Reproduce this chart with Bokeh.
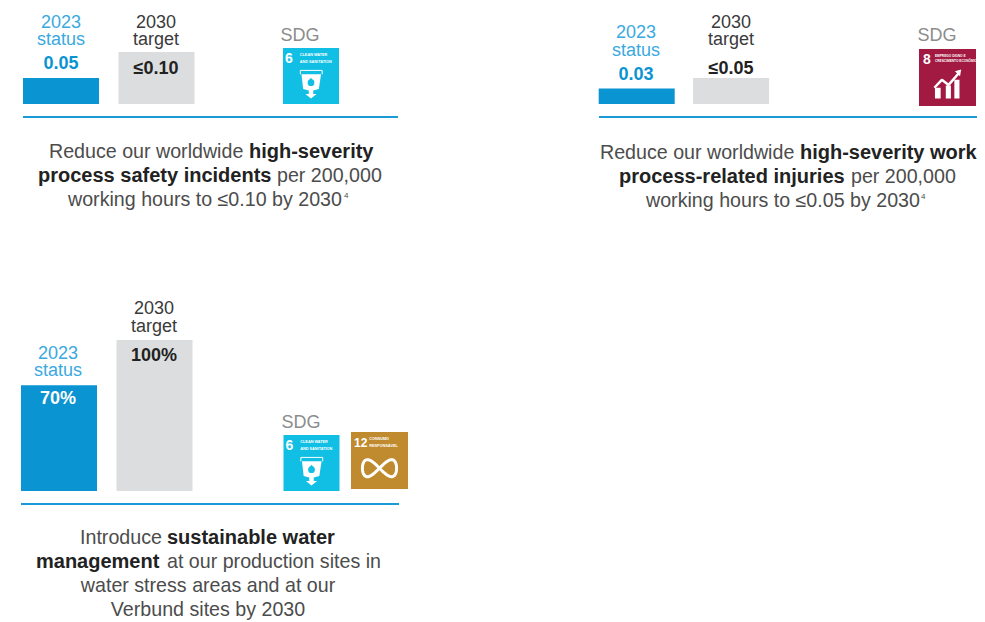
import numpy as np
from bokeh.plotting import figure
from bokeh.models import Range1d
from bokeh.core.properties import value
from bokeh.embed import file_html
from bokeh.resources import INLINE

# ---- data ----
status_labels = ["0.05", "0.03", "70%"]
target_labels = ["≤0.10", "≤0.05", "100%"]
status_values = [0.05, 0.03, 70]
target_values = [0.10, 0.05, 100]
series_names = ["2023\nstatus", "2030\ntarget"]

# ---- style ----
BLUE, GREY, RULE = "#0a94d2", "#dcddde", "#1a9ad6"
LBLUE, DARK, BODY, SDGC = "#3aa9df", "#3a3a3a", "#4c4c4c", "#8c8c8c"
C6, C8, C12 = "#10bfe3", "#a21942", "#bf8b2e"
FONT = "Liberation Sans"
W, H = 985, 622
BS = 19.65
BB = 20
OFF = 0.5

p = figure(width=W, height=H, output_backend="svg", toolbar_location=None,
           x_range=Range1d(OFF, W + OFF), y_range=Range1d(H + OFF, OFF),
           min_border=0, outline_line_color=None, background_fill_color="white")
p.axis.visible = False
p.grid.visible = False

# value scales: base pixel 104 for the rate panels, 491 for the percentage panel
p.extra_y_ranges = {
    "rate": Range1d((104 - H - OFF) / 520, (104 - OFF) / 520),
    "pct": Range1d((491 - H - OFF) / 1.51, (491 - OFF) / 1.51),
}


def t(x, y, s, size=18, color=BODY, bold=False, align="center"):
    p.text([x], [y], text=[s], text_font=value(FONT), text_font_size=f"{size}px",
           text_color=color, text_font_style="bold" if bold else "normal",
           text_align=align, text_baseline="middle")


def bars(i, xs, rng):
    for x, v, c in zip(xs, [status_values[i], target_values[i]], [BLUE, GREY]):
        p.vbar(x=[x], width=76, bottom=[0], top=[v], color=c, line_color=None, y_range_name=rng)


def series_text(x, y1, y2, name, color):
    a, b = name.split("\n")
    t(x, y1, a, color=color)
    t(x, y2, b, color=color)


def square(x, y, s, color):
    p.quad(left=[x], right=[x + s], top=[y], bottom=[y + s], color=color, line_color=None)


def icon6(x, y, s=56):
    square(x, y, s, C6)
    t(x + .105 * s, y + .18 * s, "6", 14, "white", True)
    t(x + .30 * s, y + .13 * s, "CLEAN WATER", 3.8, "white", True, "left")
    t(x + .30 * s, y + .25 * s, "AND SANITATION", 3.8, "white", True, "left")
    X = lambda a: [x + q * s for q in a]
    Y = lambda a: [y + q * s for q in a]
    p.line(X([.31, .31, .70, .70]), Y([.47, .40, .40, .47]), line_color="white", line_width=1)
    p.patch(X([.33, .68, .64, .54, .54, .60, .50, .40, .46, .46, .36]),
            Y([.47, .47, .73, .76, .82, .82, .90, .82, .82, .76, .73]), color="white", line_color=None)
    p.scatter(X([.5]), Y([.62]), size=.12 * s, color=C6, line_color=None)
    p.patch(X([.5, .45, .55]), Y([.53, .60, .60]), color=C6, line_color=None)


def icon8(x, y, s=57):
    square(x, y, s, C8)
    t(x + .14 * s, y + .17 * s, "8", 14, "white", True)
    t(x + .28 * s, y + .115 * s, "EMPREGO DIGNO E", 3.2, "white", True, "left")
    t(x + .28 * s, y + .21 * s, "CRESCIMENTO ECONÔMICO", 3.2, "white", True, "left")
    X = lambda a: [x + q * s for q in a]
    Y = lambda a: [y + q * s for q in a]
    p.quad(left=X([.28, .47, .62]), right=X([.38, .56, .71]), top=Y([.68, .64, .54]),
           bottom=Y([.87, .87, .87]), color="white", line_color=None)
    p.line(X([.27, .40, .52, .70]), Y([.68, .54, .63, .42]), line_color="white", line_width=2.5)
    p.patch(X([.63, .74, .72]), Y([.39, .36, .48]), color="white", line_color=None)


def icon12(x, y, s=57):
    square(x, y, s, C12)
    t(x + .17 * s, y + .19 * s, "12", 12, "white", True)
    t(x + .32 * s, y + .12 * s, "CONSUMO", 3.8, "white", True, "left")
    t(x + .32 * s, y + .24 * s, "RESPONSÁVEL", 3.8, "white", True, "left")
    th = np.linspace(0, 2 * np.pi, 80)
    p.line(x + .50 * s + .30 * s * np.cos(th), y + .635 * s + .30 * s * np.sin(th) * np.cos(th),
           line_color="white", line_width=3)


# ---- panel 1 ----
bars(0, [61, 156.5], "rate")
series_text(61, 21, 39, series_names[0], LBLUE)
series_text(156, 21, 39, series_names[1], DARK)
t(61, 62, status_labels[0], 18, BLUE, True)
t(156, 68, target_labels[0], 18, "#222222", True)
t(300, 35, "SDG", color=SDGC)
icon6(283, 48)
p.line([23, 398], [117, 117], line_color=RULE, line_width=2)
t(49, 151, "Reduce our worldwide", BS, align="left")
t(249, 151, "high-severity", BB, "#222222", True, "left")
t(38, 175, "process safety incidents", BB, "#222222", True, "left")
t(277, 175, "per 200,000", BS, align="left")
t(68, 199, "working hours to ≤0.10 by 2030", BS, align="left")
t(344, 195, "4", 8, align="left")

# ---- panel 2 ----
bars(1, [636.7, 731], "rate")
series_text(636, 31, 50, series_names[0], LBLUE)
series_text(731, 21, 39, series_names[1], DARK)
t(636, 73, status_labels[1], 18, BLUE, True)
t(731, 68, target_labels[1], 18, "#222222", True)
t(937, 35, "SDG", color=SDGC)
icon8(919, 49)
p.line([599, 977], [117, 117], line_color=RULE, line_width=2)
t(600, 152, "Reduce our worldwide", BS, align="left")
t(800, 152, "high-severity work", BB, "#222222", True, "left")
t(619, 176, "process-related injuries", BB, "#222222", True, "left")
t(851, 176, "per 200,000", BS, align="left")
t(646, 200, "working hours to ≤0.05 by 2030", BS, align="left")
t(921, 196, "4", 8, align="left")

# ---- panel 3 ----
bars(2, [59, 154.5], "pct")
series_text(58, 352, 370, series_names[0], LBLUE)
series_text(154, 307, 326, series_names[1], DARK)
t(58, 398, status_labels[2], 18, "white", True)
t(154, 355, target_labels[2], 18, "#222222", True)
t(301, 422, "SDG", color=SDGC)
icon6(283.5, 435)
icon12(351, 432)
p.line([21, 399], [504, 504], line_color=RULE, line_width=2)
t(80, 537, "Introduce", BS, align="left")
t(167, 537, "sustainable water", BB, "#222222", True, "left")
t(36, 561, "management", BB, "#222222", True, "left")
t(167, 561, "at our production sites in", BS, align="left")
t(208, 585, "water stress areas and at our", BS)
t(208, 609, "Verbund sites by 2030", BS)

open("out.html", "w").write(file_html(p, INLINE))
